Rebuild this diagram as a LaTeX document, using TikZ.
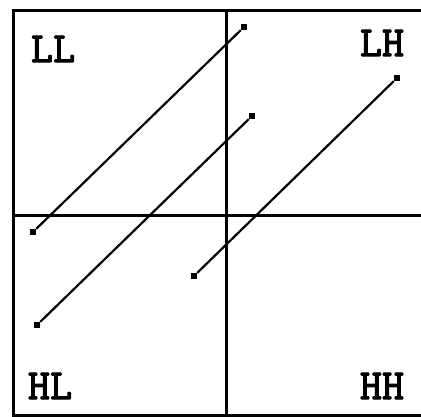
\documentclass[tikz,border=0pt]{standalone}
\usepackage{fontspec}
\newfontfamily\quadfont{Latin Modern Mono}[FakeBold=2.5]
\usepackage{tikz}
\usetikzlibrary{positioning}

\begin{document}
\begin{tikzpicture}[
  x=1pt, y=-1pt,
  frame/.style={line width=3pt},
  quadlabel/.style={font=\quadfont\fontsize{43}{43}\selectfont, inner sep=0pt},
  enddot/.style={rectangle, fill=black, minimum size=6pt, inner sep=0pt},
  segment/.style={line width=2.2pt},
]
\useasboundingbox (0,0) rectangle (421,417);

%% ── Frame and quadrant dividers ──────────────────────────────────────────
\coordinate (tr) at (422,11);
\coordinate (tl) at (13,11);
\coordinate (bl) at (13,415);
\coordinate (br) at (422,415);
\coordinate (vtop) at (226,11);
\coordinate (vbot) at (226,415);
\coordinate (hleft) at (13,216);
\coordinate (hright) at (422,216);
\draw[frame] (tr) -- (tl) -- (bl) -- (br);
\draw[frame] (vtop) -- (vbot);
\draw[frame] (hleft) -- (hright);

%% ── Quadrant labels ──────────────────────────────────────────────────────
\node[quadlabel] (ll) at (53,49)  {LL};
\node[quadlabel] (lh) at (382,43) {LH};
\node[quadlabel] (hl) at (50,386) {HL};
\node[quadlabel] (hh) at (382,386) {HH};

%% ── Segment end points ───────────────────────────────────────────────────
\node[enddot] (a1) at (33,232)  {};
\node[enddot] (a2) at (244,27)  {};
\node[enddot] (b1) at (37,325)  {};
\node[enddot] (b2) at (252,116) {};
\node[enddot] (c1) at (194,276) {};
\node[enddot] (c2) at (397,78)  {};

%% ── Segments ─────────────────────────────────────────────────────────────
\draw[segment] (a1) -- (a2);
\draw[segment] (b1) -- (b2);
\draw[segment] (c1) -- (c2);

\end{tikzpicture}
\end{document}
